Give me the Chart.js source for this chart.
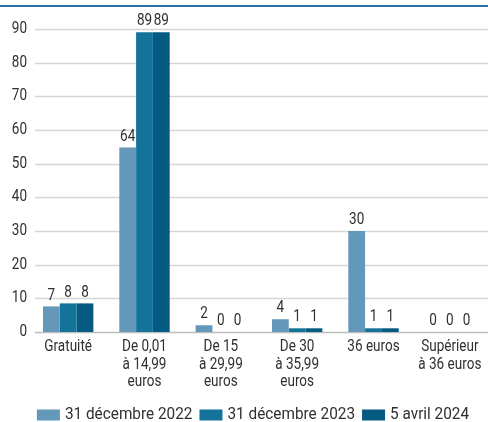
<!DOCTYPE html>
<html>
<head>
<meta charset="utf-8">
<script src="https://cdn.jsdelivr.net/npm/chart.js@4"></script>
<style>
html,body{margin:0;padding:0;background:#fff;}
#c{display:block;}
</style>
</head>
<body>
<canvas id="c" width="488" height="422"></canvas>
<script>
const categories = [
  ['Gratuité'],
  ['De 0,01', 'à 14,99', 'euros'],
  ['De 15', 'à 29,99', 'euros'],
  ['De 30', 'à 35,99', 'euros'],
  ['36 euros'],
  ['Supérieur', 'à 36 euros']
];
const seriesNames = ['31 décembre 2022', '31 décembre 2023', '5 avril 2024'];
const values2022 = [7.6, 54.8, 2, 3.8, 30, 0];
const values2023 = [8.5, 89, 0, 1.1, 1.1, 0];
const values2024 = [8.5, 89, 0, 1.1, 1.1, 0];
const labels2022 = ['7', '64', '2', '4', '30', '0'];
const labels2023 = ['8', '89', '0', '1', '1', '0'];
const labels2024 = ['8', '89', '0', '1', '1', '0'];
const yTicks = [0, 10, 20, 30, 40, 50, 60, 70, 80, 90];
const colors = ['#6398ba', '#14739a', '#045a80'];

const FONT = 'Roboto, "Liberation Sans", sans-serif';
const TEXT = '#303030';
const allLabels = [labels2022, labels2023, labels2024];
const SX = 0.82;

function txt(ctx, s, x, y, align, sx) {
  ctx.save();
  ctx.translate(x, y);
  ctx.scale(sx, 1);
  ctx.textAlign = align;
  ctx.textBaseline = 'middle';
  ctx.fillText(s, 0, 0);
  ctx.restore();
}

const decor = {
  id: 'decor',
  beforeDatasetsDraw(chart) {
    const ctx = chart.ctx;
    const y = chart.scales.y;
    const x = chart.scales.x;
    ctx.save();
    yTicks.forEach(v => {
      const py = Math.round(y.getPixelForValue(v)) + 0.5;
      ctx.strokeStyle = v === 0 ? '#bdbdbd' : '#d6d6d6';
      ctx.lineWidth = 1.6;
      ctx.beginPath();
      ctx.moveTo(35, py);
      ctx.lineTo(chart.width, py);
      ctx.stroke();
    });
    ctx.strokeStyle = '#2a6fa4';
    ctx.lineWidth = 2;
    ctx.beginPath();
    ctx.moveTo(0, 6);
    ctx.lineTo(chart.width, 6);
    ctx.stroke();
    // axis labels
    ctx.fillStyle = TEXT;
    ctx.font = '16.5px ' + FONT;
    yTicks.forEach(v => {
      txt(ctx, String(v), 27, y.getPixelForValue(v), 'right', SX);
    });
    const base = y.getPixelForValue(0);
    categories.forEach((lines, i) => {
      const cx = x.getPixelForValue(i);
      lines.forEach((s, k) => {
        txt(ctx, s, cx, base + 15 + k * 17.5, 'center', SX);
      });
    });
    ctx.restore();
  },
  afterDatasetsDraw(chart) {
    const ctx = chart.ctx;
    ctx.save();
    ctx.font = '16.5px ' + FONT;
    ctx.fillStyle = TEXT;
    chart.data.datasets.forEach((ds, i) => {
      chart.getDatasetMeta(i).data.forEach((bar, j) => {
        txt(ctx, allLabels[i][j], bar.x, bar.y - 11, 'center', SX);
      });
    });
    // legend
    ctx.font = '16.5px ' + FONT;
    const LS = 0.93;
    const boxW = 23, boxH = 11, gap = 5, itemGap = 7, cy = 415;
    const widths = chart.data.datasets.map(ds => boxW + gap + ctx.measureText(ds.label).width * LS);
    const total = widths.reduce((a, b) => a + b, 0) + itemGap * (widths.length - 1);
    let lx = 253 - total / 2;
    chart.data.datasets.forEach((ds, i) => {
      ctx.fillStyle = ds.backgroundColor;
      ctx.fillRect(lx, cy - boxH / 2, boxW, boxH);
      ctx.fillStyle = TEXT;
      txt(ctx, ds.label, lx + boxW + gap, cy, 'left', LS);
      lx += widths[i] + itemGap;
    });
    ctx.restore();
  }
};

new Chart(document.getElementById('c'), {
  type: 'bar',
  data: {
    labels: categories.map(l => l.join(' ')),
    datasets: [
      { label: seriesNames[0], data: values2022, backgroundColor: colors[0] },
      { label: seriesNames[1], data: values2023, backgroundColor: colors[1] },
      { label: seriesNames[2], data: values2024, backgroundColor: colors[2] }
    ]
  },
  options: {
    responsive: false,
    animation: false,
    devicePixelRatio: 1,
    layout: { padding: { top: 29, right: -4, left: 0, bottom: 30 } },
    datasets: { bar: { barPercentage: 1, categoryPercentage: 0.66, borderWidth: 0 } },
    plugins: {
      legend: { display: false },
      tooltip: { enabled: false }
    },
    scales: {
      x: {
        grid: { display: false, drawTicks: false },
        border: { display: false },
        ticks: { display: false },
        afterFit(s) { s.height = 60; }
      },
      y: {
        min: 0, max: 90,
        grid: { display: false, drawTicks: false },
        border: { display: false },
        ticks: { display: false, stepSize: 10 },
        afterFit(s) { s.width = 30; }
      }
    }
  },
  plugins: [decor]
});
</script>
</body>
</html>
